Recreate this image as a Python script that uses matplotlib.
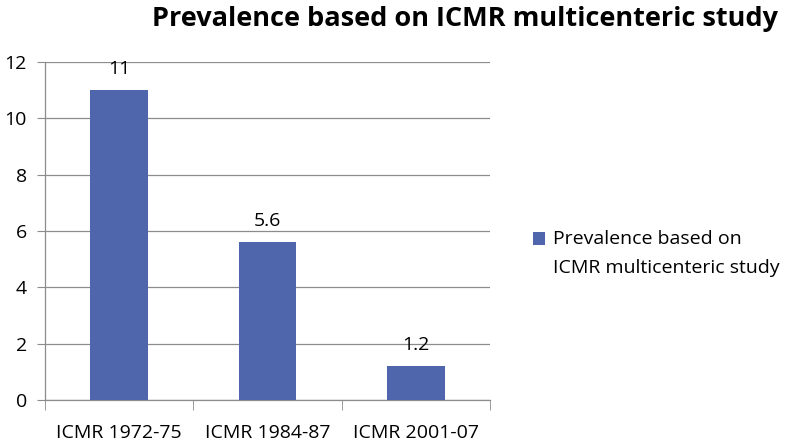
import matplotlib
matplotlib.use("Agg")
import matplotlib.pyplot as plt
import numpy as np

categories = ["ICMR 1972-75", "ICMR 1984-87", "ICMR 2001-07"]
values = [11, 5.6, 1.2]
value_labels = ["11", "5.6", "1.2"]
yticks = [0, 2, 4, 6, 8, 10, 12]
series_name = "Prevalence based on\nICMR multicenteric study"
title = "Prevalence based on ICMR multicenteric study"

plt.rcParams['font.family'] = ['Open Sans', 'DejaVu Sans']
bar_color = "#5066AC"
grid_color = "#8C8C8C"

fig = plt.figure(figsize=(7.87, 4.45), dpi=100)
ax = fig.add_axes([0.0572, 0.1011, 0.5654, 0.7596])

x = np.arange(len(categories))
ax.bar(x, values, width=0.39, color=bar_color, zorder=3, label=series_name)
ax.set_xlim(-0.5, len(categories) - 0.5)
ax.set_ylim(0, 12)
ax.set_yticks(yticks)
ax.set_yticklabels([str(t) for t in yticks], fontsize=14)
ax.yaxis.grid(True, color=grid_color, linewidth=0.9, zorder=0)
ax.tick_params(axis='y', length=6, color=grid_color, pad=7)

ax.set_xticks(x)
ax.set_xticklabels(categories, fontsize=14)
ax.tick_params(axis='x', which='major', length=0, pad=17)
ax.set_xticks(np.arange(len(categories) + 1) - 0.5, minor=True)
ax.tick_params(axis='x', which='minor', length=7, color=grid_color)

for s in ['top', 'right']:
    ax.spines[s].set_visible(False)
for s in ['left', 'bottom']:
    ax.spines[s].set_color(grid_color)
    ax.spines[s].set_linewidth(0.9)

for xi, v, lab in zip(x, values, value_labels):
    ax.annotate(lab, (xi, v), xytext=(0, 9), textcoords='offset points',
                ha='center', va='bottom', fontsize=14)

fig.text(0.988, 0.957, title, ha='right', va='center', fontsize=19.5,
         fontweight='bold')

leg = fig.legend(loc='center left', bbox_to_anchor=(0.655, 0.43), frameon=False,
                 fontsize=14, handlelength=0.6, handleheight=0.6,
                 handletextpad=0.45)
for t in leg.get_texts():
    t.set_linespacing(1.75)
h = leg.legend_handles[0]
h.set_y(h.get_y() + 11)

fig.savefig("out.png", dpi=100)
